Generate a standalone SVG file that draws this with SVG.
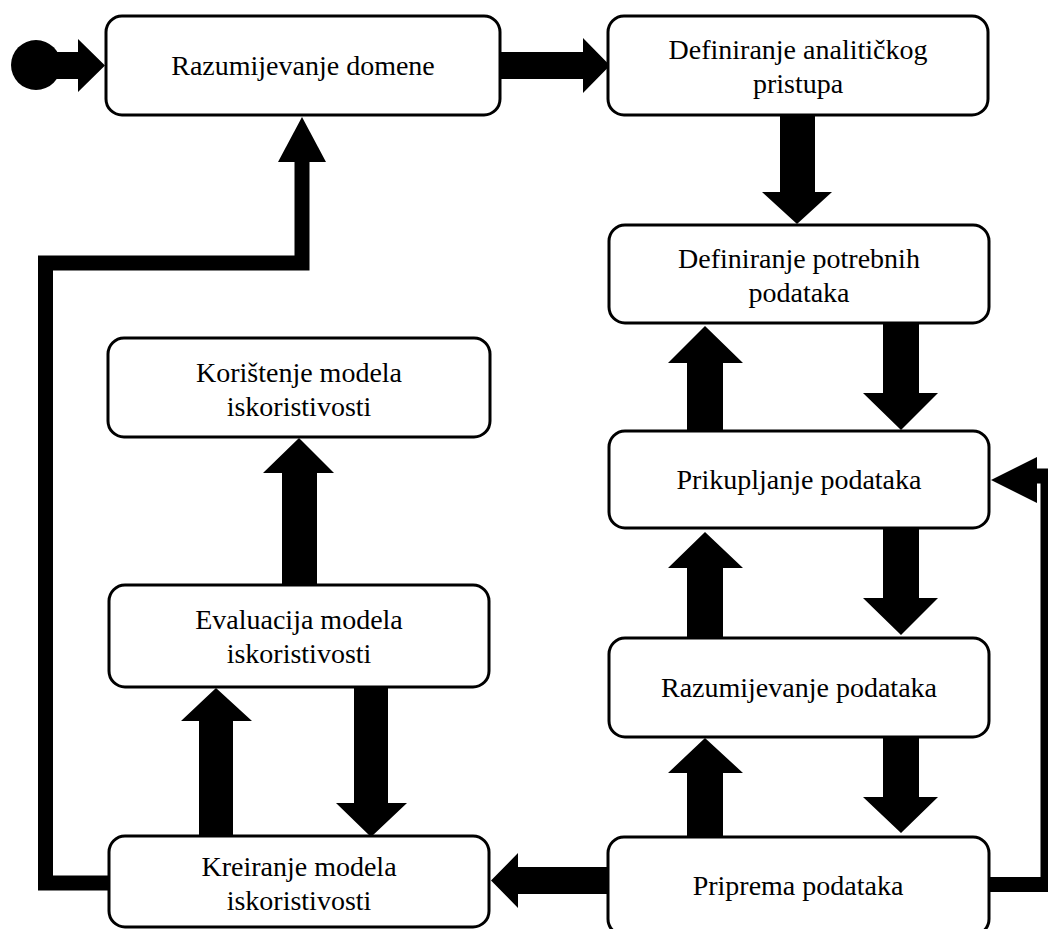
<svg xmlns="http://www.w3.org/2000/svg" width="1048" height="929" viewBox="0 0 1048 929">
<style>
.box{fill:#fff;stroke:#000;stroke-width:3}
.t{font-family:"Liberation Serif","Times New Roman",serif;font-size:28px;fill:#000;text-anchor:middle}
.a{fill:#000;stroke:none}
.l{fill:none;stroke:#000;stroke-width:15;stroke-linejoin:miter}
</style>
<rect width="1048" height="929" fill="#fff"/>
<g id="connectors">
  <circle class="a" cx="36" cy="65" r="25"/>
  <polygon class="a" points="55,52 78,52 78,39 105,65.5 78,92 78,79 55,79"/>
  <polygon class="a" points="500,52 583,52 583,38 610,65.5 583,93 583,79 500,79"/>
  <polygon class="a" points="780,115 815,115 815,192 832,192 797,224 762,192 780,192"/>
  <polygon class="a" points="687,431 723,431 723,363 743,363 705,326 668,363 687,363"/>
  <polygon class="a" points="883,323 919,323 919,393 938,393 901,430 863,393 883,393"/>
  <polygon class="a" points="687,638 723,638 723,568 743,568 705,532 668,568 687,568"/>
  <polygon class="a" points="883,528 919,528 919,598 938,598 901,635 863,598 883,598"/>
  <polygon class="a" points="687,837 723,837 723,773 743,773 705,738 668,773 687,773"/>
  <polygon class="a" points="883,737 919,737 919,797 938,797 901,833 863,797 883,797"/>
  <polygon class="a" points="608,867 518,867 518,853 491,880.5 518,908 518,894 608,894"/>
  <polygon class="a" points="199,836 233,836 233,721 252,721 216,688 181,721 199,721"/>
  <polygon class="a" points="354,687 388,687 388,803 407,803 371,837 336,803 354,803"/>
  <polygon class="a" points="282,585 317,585 317,473 334,473 299,438 263,473 282,473"/>
  <path class="l" d="M108,883 H45.5 V263 H302 V160"/>
  <polygon class="a" points="278,162 326,162 302,117"/>
  <path class="l" d="M989,884.5 H1048 V476 H1035"/>
  <polygon class="a" points="1037,457 1037,503 991,480"/>
</g>
<g id="n1"><rect class="box" x="106" y="16" width="394" height="99" rx="16"/><text class="t" x="303" y="75">Razumijevanje domene</text></g>
<g id="n2"><rect class="box" x="608" y="16" width="380" height="99" rx="16"/><text class="t" x="798" y="59">Definiranje analitičkog</text><text class="t" x="798" y="93">pristupa</text></g>
<g id="n3"><rect class="box" x="609" y="225" width="380" height="98" rx="16"/><text class="t" x="799" y="268">Definiranje potrebnih</text><text class="t" x="799" y="302">podataka</text></g>
<g id="n4"><rect class="box" x="609" y="431" width="380" height="97" rx="16"/><text class="t" x="799" y="489">Prikupljanje podataka</text></g>
<g id="n5"><rect class="box" x="609" y="638" width="380" height="99" rx="16"/><text class="t" x="799" y="697">Razumijevanje podataka</text></g>
<g id="n6"><rect class="box" x="608" y="837" width="381" height="98" rx="16"/><text class="t" x="798" y="895">Priprema podataka</text></g>
<g id="n7"><rect class="box" x="108" y="338" width="382" height="99" rx="16"/><text class="t" x="299" y="382">Korištenje modela</text><text class="t" x="299" y="416">iskoristivosti</text></g>
<g id="n8"><rect class="box" x="109" y="585" width="380" height="102" rx="16"/><text class="t" x="299" y="629">Evaluacija modela</text><text class="t" x="299" y="663">iskoristivosti</text></g>
<g id="n9"><rect class="box" x="109" y="836" width="380" height="91" rx="16"/><text class="t" x="299" y="876">Kreiranje modela</text><text class="t" x="299" y="910">iskoristivosti</text></g>
</svg>
